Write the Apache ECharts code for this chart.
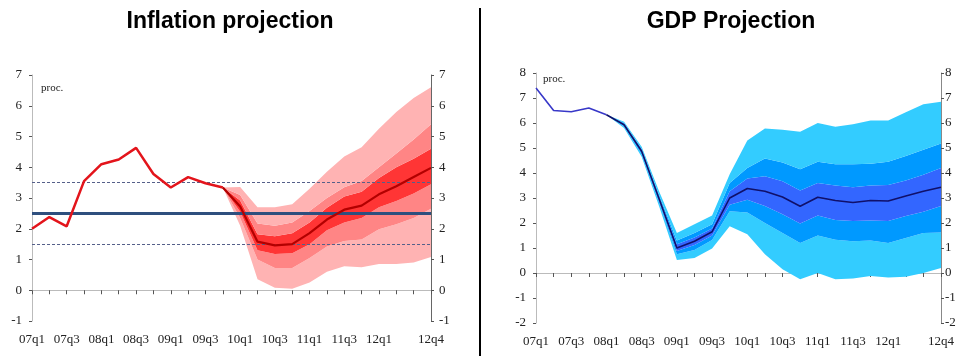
<!DOCTYPE html>
<html>
<head>
<meta charset="utf-8">
<script src="https://cdn.jsdelivr.net/npm/echarts@6/dist/echarts.min.js"></script>
<style>
  html, body { margin: 0; padding: 0; background: #fff; }
  #chart { width: 965px; height: 356px; }
</style>
</head>
<body>
<div id="chart"></div>
<script>
// quarters 07q1 .. 12q4
var quarters = [
  "07q1", "07q2", "07q3", "07q4", "08q1", "08q2", "08q3", "08q4",
  "09q1", "09q2", "09q3", "09q4", "10q1", "10q2", "10q3", "10q4",
  "11q1", "11q2", "11q3", "11q4", "12q1", "12q2", "12q3", "12q4"
];
var shownLabels = ["07q1", "07q3", "08q1", "08q3", "09q1", "09q3", "10q1", "10q3", "11q1", "11q3", "12q1", "12q4"];

// inflation (left)
var inflHistory = [2.0, 2.38, 2.08, 3.55, 4.1, 4.25, 4.63, 3.78, 3.34, 3.68, 3.48, 3.34];
var inflStart = 11; // fan starts at 09q4
var inflCentral = [3.34, 2.72, 1.58, 1.46, 1.5, 1.86, 2.3, 2.62, 2.75, 3.12, 3.38, 3.68, 3.98];
var inflOuterHi = [3.34, 3.36, 2.7, 2.7, 2.8, 3.3, 3.85, 4.35, 4.65, 5.25, 5.8, 6.25, 6.6];
var inflMidHi   = [3.34, 3.1, 2.17, 2.1, 2.2, 2.58, 3.0, 3.35, 3.55, 4.0, 4.45, 4.9, 5.4];
var inflInnerHi = [3.34, 2.92, 1.82, 1.76, 1.85, 2.2, 2.68, 3.05, 3.2, 3.65, 4.0, 4.28, 4.6];
var inflInnerLo = [3.34, 2.55, 1.3, 1.18, 1.2, 1.5, 1.95, 2.2, 2.35, 2.7, 2.9, 3.15, 3.45];
var inflMidLo   = [3.34, 2.35, 1.0, 0.72, 0.72, 1.05, 1.42, 1.6, 1.65, 1.98, 2.15, 2.35, 2.65];
var inflOuterLo = [3.34, 2.1, 0.36, 0.08, 0.05, 0.25, 0.6, 0.78, 0.75, 0.85, 0.85, 0.9, 1.08];
var inflTarget = 2.5;
var inflTolerance = [1.5, 3.5];

// GDP (right)
var gdpHistory = [7.4, 6.5, 6.45, 6.6, 6.33];
var gdpStart = 4; // fan starts at 08q1
var gdpCentral = [6.33, 5.93, 4.87, 2.95, 1.0, 1.27, 1.65, 3.0, 3.38, 3.27, 3.04, 2.67, 3.03, 2.9, 2.82, 2.9, 2.88, 3.08, 3.27, 3.43];
var gdpOuterHi = [6.33, 6.05, 5.05, 3.25, 1.6, 1.95, 2.3, 3.95, 5.3, 5.78, 5.73, 5.65, 6.0, 5.85, 5.95, 6.1, 6.1, 6.43, 6.75, 6.85];
var gdpMidHi   = [6.33, 6.0, 4.97, 3.1, 1.3, 1.6, 1.95, 3.6, 4.2, 4.58, 4.42, 4.15, 4.45, 4.35, 4.35, 4.37, 4.45, 4.68, 4.93, 5.18];
var gdpInnerHi = [6.33, 5.96, 4.92, 3.02, 1.15, 1.42, 1.78, 3.27, 3.78, 3.87, 3.67, 3.3, 3.6, 3.5, 3.43, 3.5, 3.52, 3.7, 3.93, 4.2];
var gdpInnerLo = [6.33, 5.9, 4.82, 2.88, 0.88, 1.12, 1.5, 2.73, 2.93, 2.68, 2.35, 1.98, 2.3, 2.12, 2.08, 2.1, 2.08, 2.28, 2.45, 2.68];
var gdpMidLo   = [6.33, 5.87, 4.75, 2.8, 0.75, 0.92, 1.32, 2.47, 2.42, 2.0, 1.6, 1.2, 1.5, 1.33, 1.27, 1.3, 1.2, 1.4, 1.6, 1.62];
var gdpOuterLo = [6.33, 5.8, 4.65, 2.65, 0.52, 0.6, 0.98, 1.87, 1.55, 0.75, 0.15, -0.25, 0.0, -0.25, -0.22, -0.12, -0.18, -0.15, 0.0, 0.2];

var serif = "Liberation Serif";

// put a partial array at its place in the 24 quarters
function pad(arr, start) {
  var out = [];
  for (var i = 0; i < quarters.length; i++) {
    var j = i - start;
    out.push(j >= 0 && j < arr.length ? arr[j] : "-");
  }
  return out;
}

function diff(a, b) {
  return a.map(function (v, i) { return v === "-" ? "-" : +(v - b[i]).toFixed(3); });
}

// stacked areas: outerLo (invisible) + bands up to outerHi
function fan(name, idx, start, lo3, lo2, lo1, hi1, hi2, hi3, colors) {
  var layers = [lo3, lo2, lo1, hi1, hi2, hi3].map(function (a) { return pad(a, start); });
  var fills = [null, colors[0], colors[1], colors[2], colors[1], colors[0]];
  return layers.map(function (layer, k) {
    return {
      name: name + k,
      type: "line",
      xAxisIndex: idx,
      yAxisIndex: idx * 2,
      stack: name,
      stackStrategy: "all",
      data: k === 0 ? layer : diff(layer, layers[k - 1]),
      symbol: "none",
      silent: true,
      lineStyle: { width: 0 },
      areaStyle: fills[k] ? { color: fills[k], opacity: 1 } : { opacity: 0 },
      z: 1
    };
  });
}

function xAxis(idx) {
  return {
    type: "category",
    gridIndex: idx,
    data: quarters,
    boundaryGap: false,
    axisLine: { lineStyle: { color: "#bbb" } },
    axisTick: { interval: 0, length: 4, lineStyle: { color: "#555" } },
    axisLabel: {
      interval: function (i, v) { return shownLabels.indexOf(v) >= 0; },
      fontFamily: serif, fontSize: 13, color: "#222", margin: 12
    },
    splitLine: { show: false }
  };
}

function yAxis(idx, pos, min, max, margin, lineColor) {
  return {
    type: "value",
    gridIndex: idx,
    position: pos,
    min: min, max: max, interval: 1,
    axisLine: { show: true, lineStyle: { color: lineColor } },
    axisTick: { show: true, length: 3, lineStyle: { color: "#555" } },
    axisLabel: { fontFamily: serif, fontSize: 13, color: "#222", margin: margin },
    splitLine: { show: false }
  };
}

var chart = echarts.init(document.getElementById("chart"));

var series = []
  .concat(fan("infl", 0, inflStart, inflOuterLo, inflMidLo, inflInnerLo, inflInnerHi, inflMidHi, inflOuterHi,
    ["#FFB3B3", "#FF8585", "#FF3535"]))
  .concat(fan("gdp", 1, gdpStart, gdpOuterLo, gdpMidLo, gdpInnerLo, gdpInnerHi, gdpMidHi, gdpOuterHi,
    ["#33CCFF", "#0099FF", "#3366FF"]));

series.push({
  type: "line", xAxisIndex: 0, yAxisIndex: 0, data: [], silent: true, z: 4,
  markLine: {
    symbol: "none", silent: true, label: { show: false },
    data: [
      { yAxis: inflTarget, lineStyle: { color: "#2E4F7E", width: 3, type: "solid" } },
      { yAxis: inflTolerance[0], lineStyle: { color: "#55608A", width: 1, type: [3, 2] } },
      { yAxis: inflTolerance[1], lineStyle: { color: "#55608A", width: 1, type: [3, 2] } }
    ]
  }
});
series.push({
  type: "line", xAxisIndex: 0, yAxisIndex: 0, data: pad(inflHistory, 0),
  symbol: "none", lineStyle: { color: "#E3141B", width: 2.5 }, z: 5
});
series.push({
  type: "line", xAxisIndex: 0, yAxisIndex: 0, data: pad(inflCentral, inflStart),
  symbol: "none", lineStyle: { color: "#B30000", width: 2.2 }, z: 5
});
series.push({
  type: "line", xAxisIndex: 1, yAxisIndex: 2, data: pad(gdpHistory, 0),
  symbol: "none", lineStyle: { color: "#3838C8", width: 1.6 }, z: 5
});
series.push({
  type: "line", xAxisIndex: 1, yAxisIndex: 2, data: pad(gdpCentral, gdpStart),
  symbol: "none", lineStyle: { color: "#10106A", width: 1.6 }, z: 5
});

var option = {
  animation: false,
  grid: [
    { left: 32, width: 399, top: 75, height: 246 },
    { left: 536, width: 405, top: 73, height: 250 }
  ],
  xAxis: [xAxis(0), xAxis(1)],
  yAxis: [
    yAxis(0, "left", -1, 7, 10, "#bbb"), yAxis(0, "right", -1, 7, 8, "#666"),
    yAxis(1, "left", -2, 8, 10, "#bbb"), yAxis(1, "right", -2, 8, 4, "#888")
  ],
  graphic: [
    { type: "text", x: 230, y: 22, style: { text: "Inflation projection", font: "bold 23px 'Liberation Sans'", fill: "#000", align: "center", verticalAlign: "middle" } },
    { type: "text", x: 731, y: 22, style: { text: "GDP Projection", font: "bold 23px 'Liberation Sans'", fill: "#000", align: "center", verticalAlign: "middle" } },
    { type: "line", shape: { x1: 480, y1: 8, x2: 480, y2: 356 }, style: { stroke: "#000", lineWidth: 2 } },
    { type: "text", x: 41, y: 88, style: { text: "proc.", font: "11px 'Liberation Serif'", fill: "#222", verticalAlign: "middle" } },
    { type: "text", x: 543, y: 79, style: { text: "proc.", font: "11px 'Liberation Serif'", fill: "#222", verticalAlign: "middle" } }
  ],
  series: series
};

chart.setOption(option);
</script>
</body>
</html>
